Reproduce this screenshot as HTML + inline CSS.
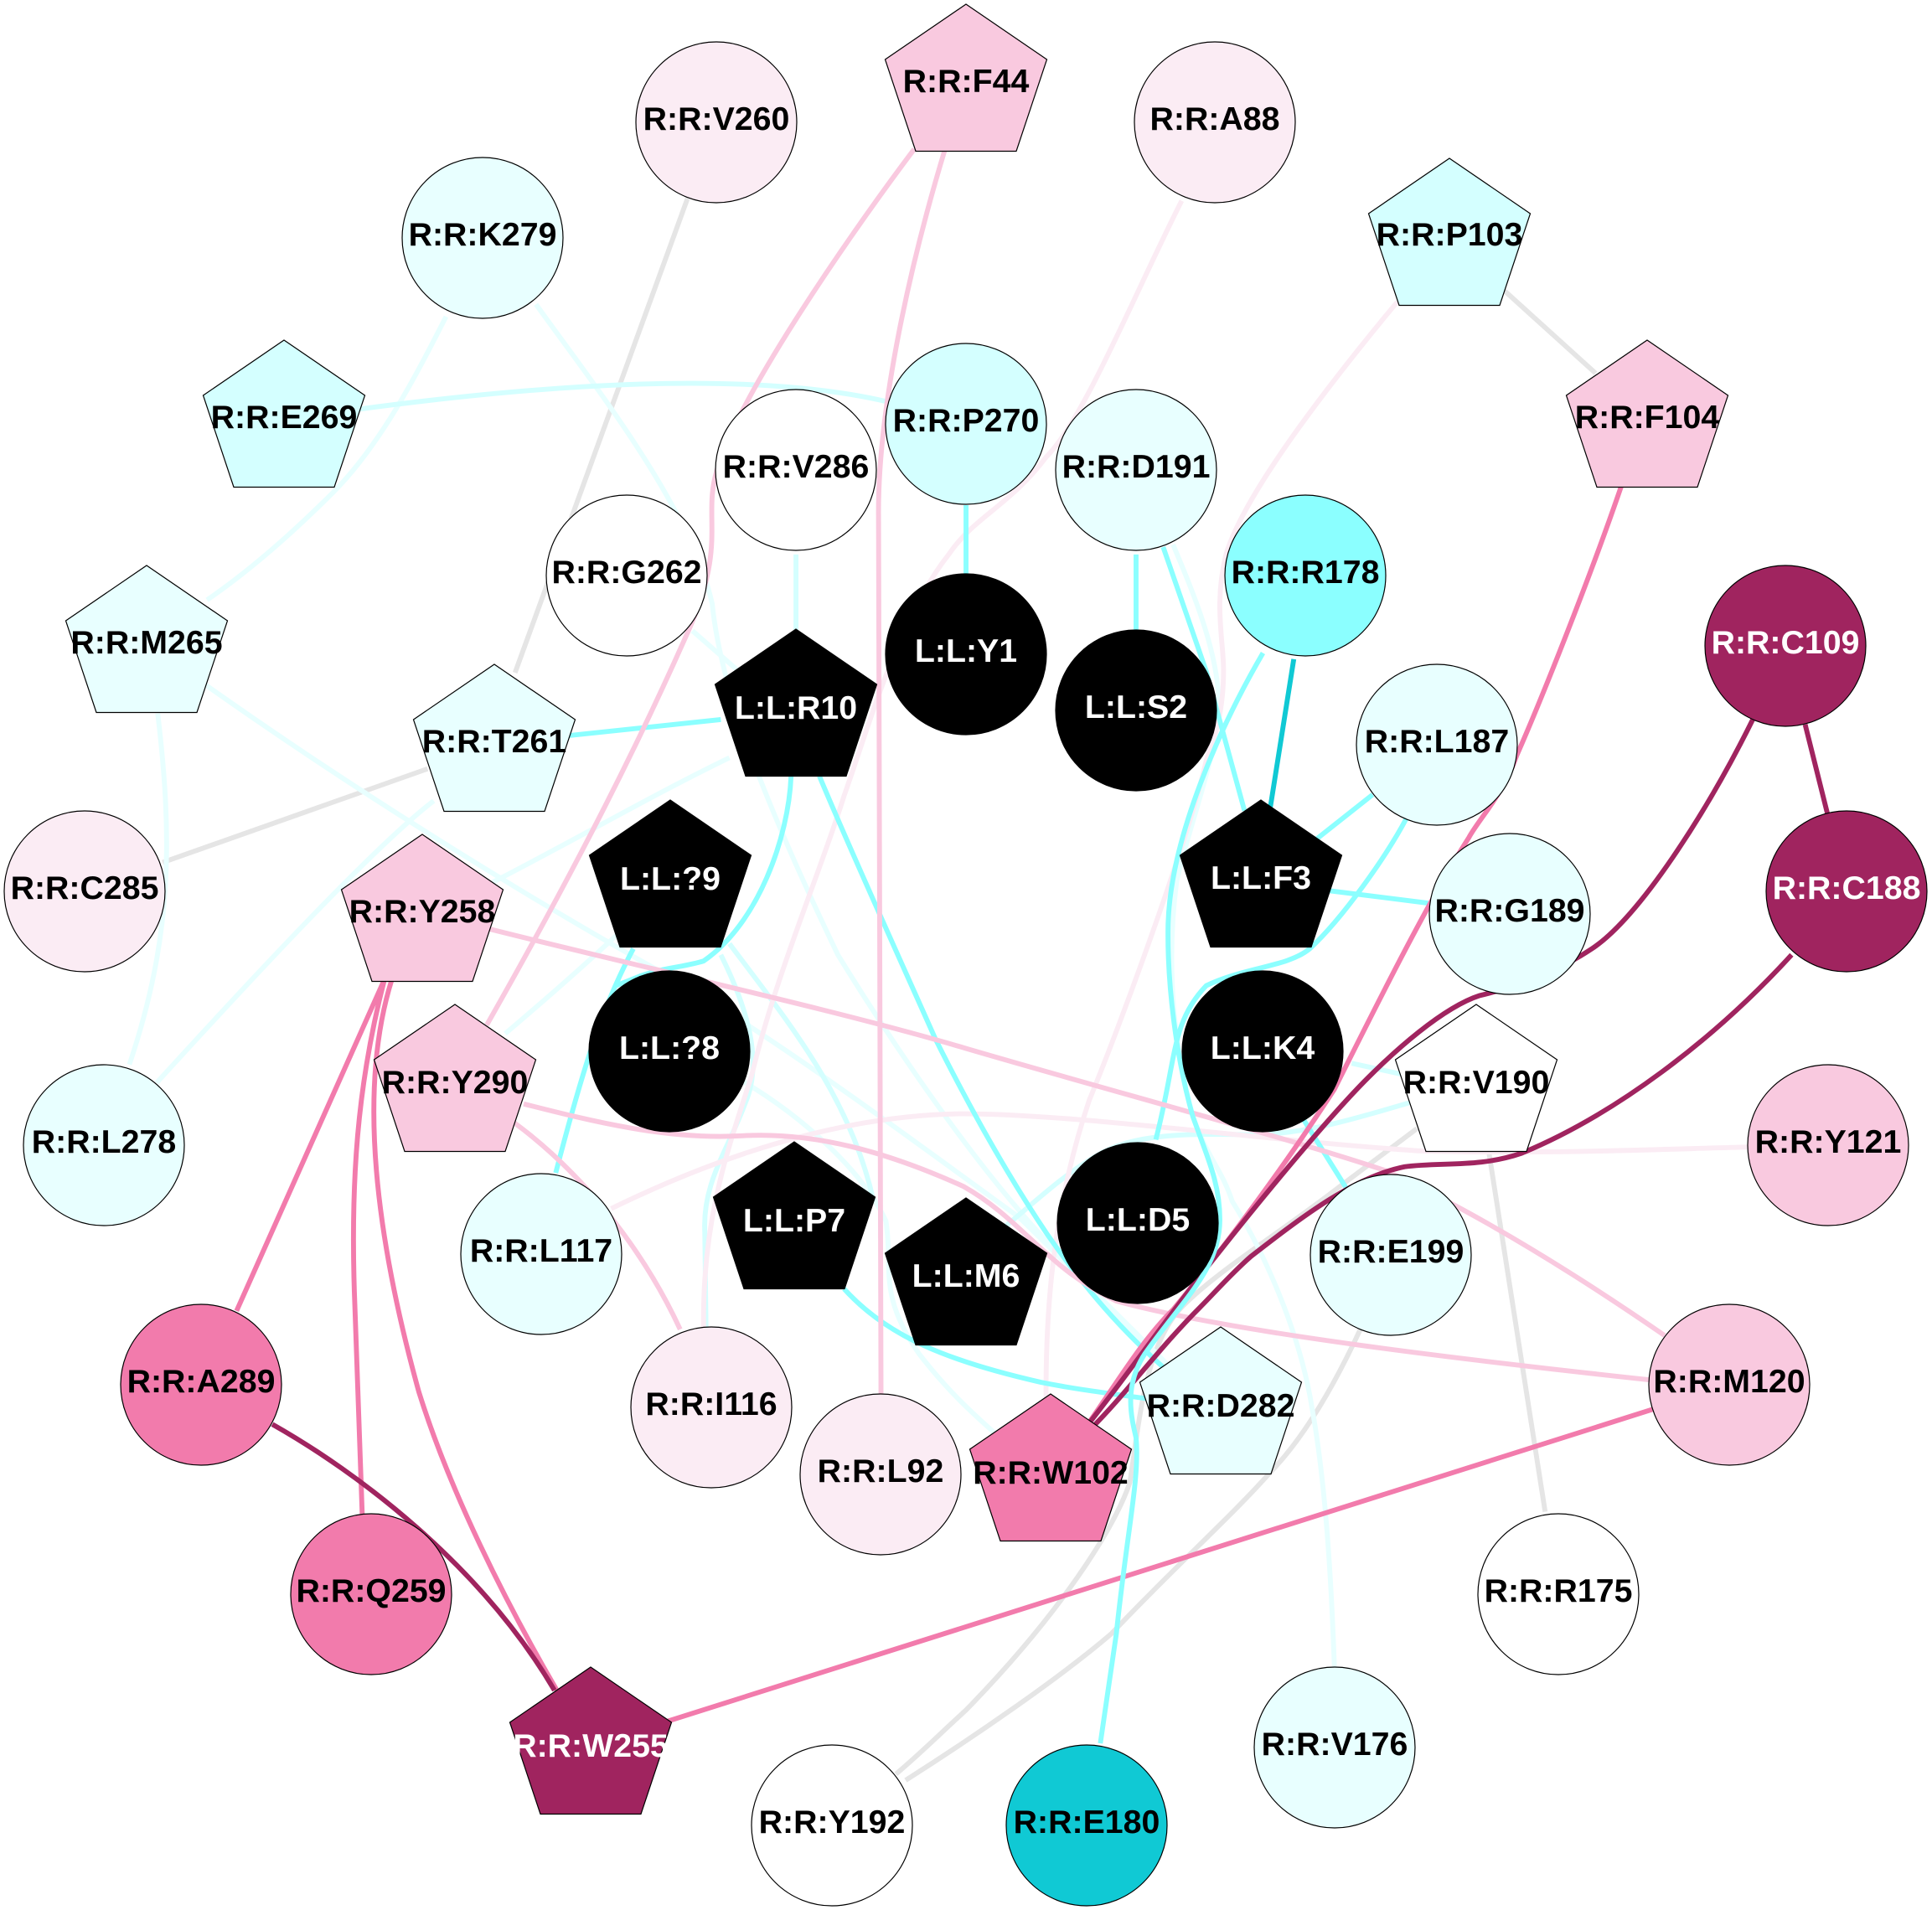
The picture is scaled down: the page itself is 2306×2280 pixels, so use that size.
<!DOCTYPE html>
<html><head><meta charset="utf-8"><title>Interaction network</title>
<style>
html,body{margin:0;padding:0;background:#fff}
svg{display:block}
text{font-family:"Liberation Sans",Arial,sans-serif;font-weight:bold;font-size:39.3px;text-anchor:middle}
.e path{fill:none;stroke-width:4}
.n circle,.n polygon{stroke:#000;stroke-width:1.2}
</style></head><body>
<svg xmlns="http://www.w3.org/2000/svg" width="2306" height="2280" viewBox="0 0 2306 2280">
<rect width="2306" height="2280" fill="#fff"/>
<g class="e" transform="scale(1.4707)">
<g stroke="#e5e5e5">
<path d="M558 161L418 546"/>
<path d="M347 624L132 700"/>
<path d="M1221 236L1295 303"/>
<path d="M1208 933L1254 1227"/>
<path d="M1150 916L1090 961C1040 1000 990 1030 960 1060C930 1090 925 1150 917 1203C905 1240 860 1310 784 1388C760 1410 745 1425 727 1440"/>
<path d="M1104 1079C1085 1120 1060 1165 1031 1195C1000 1230 950 1275 902 1326C860 1362 790 1410 735 1445"/>
</g>
<g stroke="#e8ffff">
<path d="M362 257C340 300 310 360 270 400C235 435 200 465 168 487"/>
<path d="M128 579C140 680 140 760 105 864"/>
<path d="M352 650C300 690 190 810 127 879"/>
<path d="M167 556C300 650 440 735 533 787C620 835 740 925 827 988C870 1030 910 1070 960 1120"/>
<path d="M592 615C530 645 470 680 400 716"/>
<path d="M520 740C490 770 450 805 410 839"/>
<path d="M435 247C480 310 560 410 578 490C585 560 620 650 680 775C720 840 780 930 838 995C870 1030 910 1075 950 1115"/>
<path d="M562 512L602 547"/>
<path d="M600 876C650 905 700 950 719 991C725 1030 712 1050 746 1099C770 1130 790 1148 815 1170"/>
<path d="M952 442C968 480 989 530 989 571C989 610 965 670 955 715C945 790 955 860 968 906C980 940 992 950 1000 975C1025 1015 1055 1080 1065 1144C1075 1200 1080 1270 1083 1354"/>
</g>
<g stroke="#d4ffff">
<path d="M292 332C420 315 600 298 720 326"/>
<path d="M646 450L646 512"/>
<path d="M592 766C640 830 690 890 709 975"/>
<path d="M585 775C605 815 620 860 605 895C590 935 570 960 572 1000L573 1080"/>
<path d="M1097 863L1138 872"/>
<path d="M1144 895C1100 908 1060 920 1020 921C960 920 920 920 890 938C860 955 830 985 810 1000"/>
</g>
<g stroke="#fbecf4">
<path d="M959 163C920 240 880 340 849 371C820 410 790 420 770 450C730 500 705 590 685 646C665 710 630 790 610 873C590 935 570 990 571 1077"/>
<path d="M1134 245C1080 310 1010 400 995 450C985 490 993 520 993 544C993 580 985 600 979 617C965 680 910 830 884 893C860 965 848 1040 849 1140"/>
<path d="M496 981C580 940 680 905 782 904C870 904 1020 925 1150 934C1250 937 1340 933 1420 931"/>
</g>
<g stroke="#8bffff">
<path d="M784 410L784 470"/>
<path d="M922 450L922 512"/>
<path d="M462 597L585 584"/>
<path d="M944 444L979 545L1010 658"/>
<path d="M1114 645L1066 683"/>
<path d="M1079 723L1159 733"/>
<path d="M1141 665C1125 695 1090 745 1063 770C1045 785 1010 785 979 800C950 830 955 860 938 925"/>
<path d="M642 630C640 680 615 750 571 780C555 785 540 785 520 792L500 800"/>
<path d="M514 770C490 815 475 860 451 952"/>
<path d="M665 630C690 690 740 800 759 843C785 895 815 950 850 1002C880 1045 910 1080 950 1115"/>
<path d="M685 1046C720 1085 770 1105 845 1122C880 1129 910 1132 950 1138"/>
<path d="M1040 880L1093 965"/>
</g>
<path stroke="#10c9d4" d="M1050 535L1031 655"/>
<g stroke="#f9c9df">
<path d="M742 121C690 190 600 320 582 381C570 420 590 440 560 509C520 600 470 700 395 832"/>
<path d="M767 121C740 210 712 330 713 420L715 1135"/>
<path d="M397 754C520 785 680 820 784 851C900 885 1050 925 1124 950C1200 985 1280 1035 1351 1084"/>
<path d="M425 896C480 910 540 925 600 922C660 918 720 935 782 963C830 990 850 1030 906 1056C1000 1082 1200 1105 1339 1120"/>
<path d="M417 911C470 950 520 1010 552 1079"/>
</g>
<g stroke="#f27bac">
<path d="M1316 394C1290 470 1250 570 1231 613C1220 645 1200 665 1192 680C1160 730 1120 810 1083 884C1050 935 1000 1005 952 1063C925 1090 905 1125 880 1160"/>
<path d="M312 795L192 1064"/>
<path d="M312 795C290 880 284 960 288 1060L294 1230"/>
<path d="M318 795C285 900 315 1040 340 1130C365 1210 410 1300 452 1372"/>
<path d="M542 1397L1341 1144"/>
</g>
<g stroke="#a0245f">
<path d="M1465 588L1483 660"/>
<path d="M221 1156C290 1195 390 1270 450 1372"/>
<path d="M1423 583C1385 660 1330 745 1292 770C1265 788 1235 800 1201 808C1170 818 1130 855 1110 875C1080 905 1030 965 988 1018C950 1065 920 1110 880 1160"/>
<path d="M1454 775C1390 845 1310 905 1235 936C1200 948 1170 943 1140 947C1100 955 1060 985 1015 1020C1000 1033 985 1050 974 1061C940 1095 915 1130 885 1160"/>
</g>
<path stroke="#8bffff" d="M1025 530C990 590 950 680 948 750C947 800 955 860 968 906C980 940 990 960 990 990C990 1030 960 1055 929 1099C912 1125 918 1150 922 1167C925 1200 915 1240 906 1326L893 1415"/>
</g>
<g class="n">
<circle cx="855" cy="146" r="96" fill="#fbecf4"/>
<circle cx="576" cy="284" r="96" fill="#e8ffff"/>
<circle cx="950" cy="561" r="96" fill="#fff"/>
<circle cx="748" cy="687" r="96" fill="#fff"/>
<circle cx="101" cy="1064" r="96" fill="#fbecf4"/>
<circle cx="1153" cy="506" r="96" fill="#d4ffff"/>
<circle cx="1153" cy="781" r="96" fill="#000"/>
<circle cx="1450" cy="146" r="96" fill="#fbecf4"/>
<circle cx="1356" cy="561" r="96" fill="#e8ffff"/>
<circle cx="1558" cy="687" r="96" fill="#8bffff"/>
<circle cx="1356" cy="848" r="96" fill="#000"/>
<circle cx="1715" cy="889" r="96" fill="#e8ffff"/>
<circle cx="2131" cy="771" r="96" fill="#a0245f"/>
<circle cx="1802" cy="1091" r="96" fill="#e8ffff"/>
<circle cx="2204" cy="1064" r="96" fill="#a0245f"/>
<circle cx="124" cy="1367" r="96" fill="#e8ffff"/>
<circle cx="799" cy="1255" r="96" fill="#000"/>
<circle cx="646" cy="1497" r="96" fill="#e8ffff"/>
<circle cx="240" cy="1653" r="96" fill="#f27bac"/>
<circle cx="849" cy="1680" r="96" fill="#fbecf4"/>
<circle cx="1051" cy="1760" r="96" fill="#fbecf4"/>
<circle cx="443" cy="1903" r="96" fill="#f27bac"/>
<circle cx="993" cy="2179" r="96" fill="#fff"/>
<circle cx="1507" cy="1255" r="96" fill="#000"/>
<circle cx="2182" cy="1367" r="96" fill="#f9c9df"/>
<circle cx="1358" cy="1460" r="96" fill="#000"/>
<circle cx="1660" cy="1498" r="96" fill="#e8ffff"/>
<circle cx="2064" cy="1653" r="96" fill="#f9c9df"/>
<circle cx="1860" cy="1903" r="96" fill="#fff"/>
<circle cx="1593" cy="2086" r="96" fill="#e8ffff"/>
<circle cx="1297" cy="2179" r="96" fill="#10c9d4"/>
<polygon transform="translate(1153,5)" points="0,0 96.5,66 60,175.5 -60,175.5 -96.5,66" fill="#f9c9df"/>
<polygon transform="translate(339,406)" points="0,0 96.5,66 60,175.5 -60,175.5 -96.5,66" fill="#d4ffff"/>
<polygon transform="translate(175,675)" points="0,0 96.5,66 60,175.5 -60,175.5 -96.5,66" fill="#e8ffff"/>
<polygon transform="translate(590,793)" points="0,0 96.5,66 60,175.5 -60,175.5 -96.5,66" fill="#e8ffff"/>
<polygon transform="translate(504,996)" points="0,0 96.5,66 60,175.5 -60,175.5 -96.5,66" fill="#f9c9df"/>
<polygon transform="translate(800,955)" points="0,0 96.5,66 60,175.5 -60,175.5 -96.5,66" fill="#000"/>
<polygon transform="translate(950,751)" points="0,0 96.5,66 60,175.5 -60,175.5 -96.5,66" fill="#000"/>
<polygon transform="translate(1730,189)" points="0,0 96.5,66 60,175.5 -60,175.5 -96.5,66" fill="#d4ffff"/>
<polygon transform="translate(1966,406)" points="0,0 96.5,66 60,175.5 -60,175.5 -96.5,66" fill="#f9c9df"/>
<polygon transform="translate(1505,955)" points="0,0 96.5,66 60,175.5 -60,175.5 -96.5,66" fill="#000"/>
<polygon transform="translate(543,1199)" points="0,0 96.5,66 60,175.5 -60,175.5 -96.5,66" fill="#f9c9df"/>
<polygon transform="translate(948,1363)" points="0,0 96.5,66 60,175.5 -60,175.5 -96.5,66" fill="#000"/>
<polygon transform="translate(1153,1430)" points="0,0 96.5,66 60,175.5 -60,175.5 -96.5,66" fill="#000"/>
<polygon transform="translate(705,1990)" points="0,0 96.5,66 60,175.5 -60,175.5 -96.5,66" fill="#a0245f"/>
<polygon transform="translate(1762,1199)" points="0,0 96.5,66 60,175.5 -60,175.5 -96.5,66" fill="#fff"/>
<polygon transform="translate(1457,1584)" points="0,0 96.5,66 60,175.5 -60,175.5 -96.5,66" fill="#e8ffff"/>
<polygon transform="translate(1254,1664)" points="0,0 96.5,66 60,175.5 -60,175.5 -96.5,66" fill="#f27bac"/>
</g>
<g fill="#000">
<text x="855" y="155">R:R:V260</text>
<text x="576" y="293">R:R:K279</text>
<text x="950" y="570">R:R:V286</text>
<text x="748" y="696">R:R:G262</text>
<text x="101" y="1073">R:R:C285</text>
<text x="1153" y="515">R:R:P270</text>
<text x="1450" y="155">R:R:A88</text>
<text x="1356" y="570">R:R:D191</text>
<text x="1558" y="696">R:R:R178</text>
<text x="1715" y="898">R:R:L187</text>
<text x="1802" y="1100">R:R:G189</text>
<text x="124" y="1376">R:R:L278</text>
<text x="646" y="1506">R:R:L117</text>
<text x="240" y="1662">R:R:A289</text>
<text x="849" y="1689">R:R:I116</text>
<text x="1051" y="1769">R:R:L92</text>
<text x="443" y="1912">R:R:Q259</text>
<text x="993" y="2188">R:R:Y192</text>
<text x="2182" y="1376">R:R:Y121</text>
<text x="1660" y="1507">R:R:E199</text>
<text x="2064" y="1662">R:R:M120</text>
<text x="1860" y="1912">R:R:R175</text>
<text x="1593" y="2095">R:R:V176</text>
<text x="1297" y="2188">R:R:E180</text>
<text x="1153" y="110">R:R:F44</text>
<text x="339" y="511">R:R:E269</text>
<text x="175" y="780">R:R:M265</text>
<text x="590" y="898">R:R:T261</text>
<text x="504" y="1101">R:R:Y258</text>
<text x="1730" y="293">R:R:P103</text>
<text x="1966" y="511">R:R:F104</text>
<text x="543" y="1305">R:R:Y290</text>
<text x="1762" y="1305">R:R:V190</text>
<text x="1457" y="1691">R:R:D282</text>
<text x="1254" y="1771">R:R:W102</text>
</g>
<g fill="#fff">
<text x="1153" y="790">L:L:Y1</text>
<text x="1356" y="857">L:L:S2</text>
<text x="799" y="1264">L:L:?8</text>
<text x="1507" y="1264">L:L:K4</text>
<text x="1358" y="1469">L:L:D5</text>
<text x="800" y="1062">L:L:?9</text>
<text x="950" y="858">L:L:R10</text>
<text x="1505" y="1061">L:L:F3</text>
<text x="948" y="1470">L:L:P7</text>
<text x="1153" y="1536">L:L:M6</text>
<text x="2131" y="780">R:R:C109</text>
<text x="2204" y="1073">R:R:C188</text>
<text x="705" y="2097">R:R:W255</text>
</g>
</svg>
</body></html>
